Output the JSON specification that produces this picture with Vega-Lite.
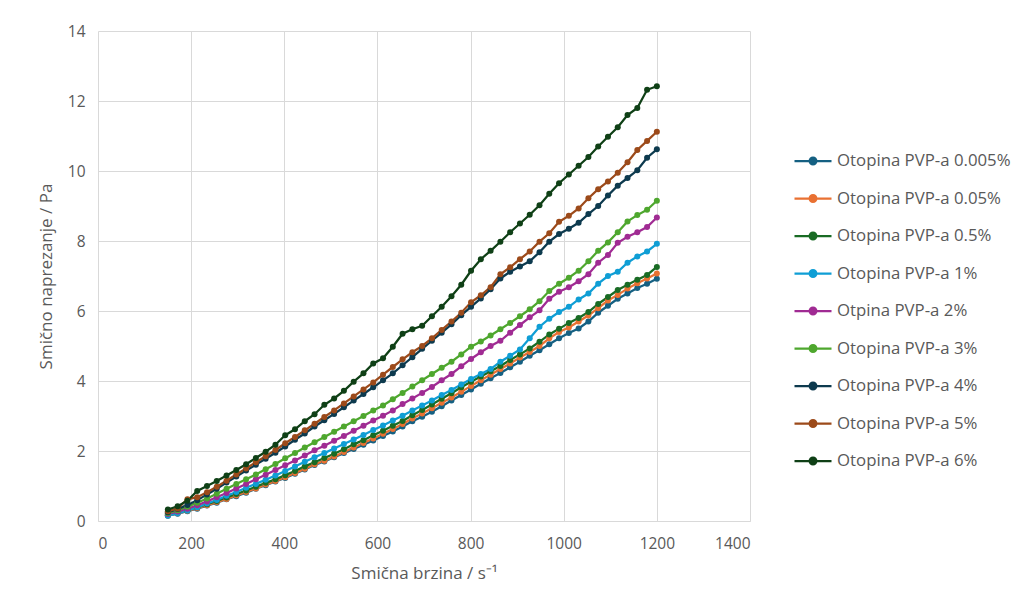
{
  "$schema": "https://vega.github.io/schema/vega-lite/v6.json",
  "width": 652,
  "height": 490,
  "autosize": {"type": "none"},
  "padding": {"left": 98, "top": 31, "right": 279, "bottom": 82},
  "background": "white",
  "config": {
    "font": "Open Sans",
    "view": {"stroke": null},
    "axis": {
      "gridColor": "#D9D9D9",
      "gridWidth": 1,
      "domainColor": "#D9D9D9",
      "ticks": false,
      "labelColor": "#595959",
      "labelFontSize": 15.5,
      "titleColor": "#595959",
      "titleFontSize": 17,
      "titleFontWeight": "normal",
      "format": "d"
    }
  },
  "data": {"values": [
{"series":"Otopina PVP-a 0.005%","x":150,"y":0.15},{"series":"Otopina PVP-a 0.005%","x":171,"y":0.21},{"series":"Otopina PVP-a 0.005%","x":192,"y":0.28},{"series":"Otopina PVP-a 0.005%","x":213,"y":0.35},{"series":"Otopina PVP-a 0.005%","x":234,"y":0.44},{"series":"Otopina PVP-a 0.005%","x":255,"y":0.52},{"series":"Otopina PVP-a 0.005%","x":276,"y":0.62},{"series":"Otopina PVP-a 0.005%","x":297,"y":0.71},{"series":"Otopina PVP-a 0.005%","x":318,"y":0.81},{"series":"Otopina PVP-a 0.005%","x":339,"y":0.92},{"series":"Otopina PVP-a 0.005%","x":360,"y":1.02},{"series":"Otopina PVP-a 0.005%","x":381,"y":1.13},{"series":"Otopina PVP-a 0.005%","x":402,"y":1.23},{"series":"Otopina PVP-a 0.005%","x":423,"y":1.35},{"series":"Otopina PVP-a 0.005%","x":444,"y":1.47},{"series":"Otopina PVP-a 0.005%","x":465,"y":1.6},{"series":"Otopina PVP-a 0.005%","x":486,"y":1.7},{"series":"Otopina PVP-a 0.005%","x":507,"y":1.82},{"series":"Otopina PVP-a 0.005%","x":528,"y":1.94},{"series":"Otopina PVP-a 0.005%","x":549,"y":2.06},{"series":"Otopina PVP-a 0.005%","x":570,"y":2.18},{"series":"Otopina PVP-a 0.005%","x":591,"y":2.3},{"series":"Otopina PVP-a 0.005%","x":612,"y":2.43},{"series":"Otopina PVP-a 0.005%","x":633,"y":2.56},{"series":"Otopina PVP-a 0.005%","x":654,"y":2.7},{"series":"Otopina PVP-a 0.005%","x":675,"y":2.85},{"series":"Otopina PVP-a 0.005%","x":696,"y":2.98},{"series":"Otopina PVP-a 0.005%","x":717,"y":3.12},{"series":"Otopina PVP-a 0.005%","x":738,"y":3.28},{"series":"Otopina PVP-a 0.005%","x":759,"y":3.44},{"series":"Otopina PVP-a 0.005%","x":780,"y":3.6},{"series":"Otopina PVP-a 0.005%","x":801,"y":3.76},{"series":"Otopina PVP-a 0.005%","x":822,"y":3.92},{"series":"Otopina PVP-a 0.005%","x":843,"y":4.08},{"series":"Otopina PVP-a 0.005%","x":864,"y":4.23},{"series":"Otopina PVP-a 0.005%","x":885,"y":4.39},{"series":"Otopina PVP-a 0.005%","x":906,"y":4.55},{"series":"Otopina PVP-a 0.005%","x":927,"y":4.72},{"series":"Otopina PVP-a 0.005%","x":948,"y":4.88},{"series":"Otopina PVP-a 0.005%","x":969,"y":5.05},{"series":"Otopina PVP-a 0.005%","x":990,"y":5.22},{"series":"Otopina PVP-a 0.005%","x":1011,"y":5.37},{"series":"Otopina PVP-a 0.005%","x":1032,"y":5.5},{"series":"Otopina PVP-a 0.005%","x":1053,"y":5.7},{"series":"Otopina PVP-a 0.005%","x":1074,"y":5.95},{"series":"Otopina PVP-a 0.005%","x":1095,"y":6.15},{"series":"Otopina PVP-a 0.005%","x":1116,"y":6.35},{"series":"Otopina PVP-a 0.005%","x":1137,"y":6.5},{"series":"Otopina PVP-a 0.005%","x":1158,"y":6.66},{"series":"Otopina PVP-a 0.005%","x":1179,"y":6.78},{"series":"Otopina PVP-a 0.005%","x":1200,"y":6.92},
{"series":"Otopina PVP-a 0.05%","x":150,"y":0.16},{"series":"Otopina PVP-a 0.05%","x":171,"y":0.22},{"series":"Otopina PVP-a 0.05%","x":192,"y":0.29},{"series":"Otopina PVP-a 0.05%","x":213,"y":0.37},{"series":"Otopina PVP-a 0.05%","x":234,"y":0.45},{"series":"Otopina PVP-a 0.05%","x":255,"y":0.54},{"series":"Otopina PVP-a 0.05%","x":276,"y":0.63},{"series":"Otopina PVP-a 0.05%","x":297,"y":0.73},{"series":"Otopina PVP-a 0.05%","x":318,"y":0.83},{"series":"Otopina PVP-a 0.05%","x":339,"y":0.93},{"series":"Otopina PVP-a 0.05%","x":360,"y":1.04},{"series":"Otopina PVP-a 0.05%","x":381,"y":1.14},{"series":"Otopina PVP-a 0.05%","x":402,"y":1.25},{"series":"Otopina PVP-a 0.05%","x":423,"y":1.37},{"series":"Otopina PVP-a 0.05%","x":444,"y":1.49},{"series":"Otopina PVP-a 0.05%","x":465,"y":1.62},{"series":"Otopina PVP-a 0.05%","x":486,"y":1.72},{"series":"Otopina PVP-a 0.05%","x":507,"y":1.84},{"series":"Otopina PVP-a 0.05%","x":528,"y":1.97},{"series":"Otopina PVP-a 0.05%","x":549,"y":2.1},{"series":"Otopina PVP-a 0.05%","x":570,"y":2.23},{"series":"Otopina PVP-a 0.05%","x":591,"y":2.36},{"series":"Otopina PVP-a 0.05%","x":612,"y":2.49},{"series":"Otopina PVP-a 0.05%","x":633,"y":2.63},{"series":"Otopina PVP-a 0.05%","x":654,"y":2.77},{"series":"Otopina PVP-a 0.05%","x":675,"y":2.93},{"series":"Otopina PVP-a 0.05%","x":696,"y":3.07},{"series":"Otopina PVP-a 0.05%","x":717,"y":3.22},{"series":"Otopina PVP-a 0.05%","x":738,"y":3.38},{"series":"Otopina PVP-a 0.05%","x":759,"y":3.53},{"series":"Otopina PVP-a 0.05%","x":780,"y":3.69},{"series":"Otopina PVP-a 0.05%","x":801,"y":3.86},{"series":"Otopina PVP-a 0.05%","x":822,"y":4.02},{"series":"Otopina PVP-a 0.05%","x":843,"y":4.18},{"series":"Otopina PVP-a 0.05%","x":864,"y":4.34},{"series":"Otopina PVP-a 0.05%","x":885,"y":4.5},{"series":"Otopina PVP-a 0.05%","x":906,"y":4.67},{"series":"Otopina PVP-a 0.05%","x":927,"y":4.83},{"series":"Otopina PVP-a 0.05%","x":948,"y":5.0},{"series":"Otopina PVP-a 0.05%","x":969,"y":5.22},{"series":"Otopina PVP-a 0.05%","x":990,"y":5.4},{"series":"Otopina PVP-a 0.05%","x":1011,"y":5.53},{"series":"Otopina PVP-a 0.05%","x":1032,"y":5.7},{"series":"Otopina PVP-a 0.05%","x":1053,"y":5.87},{"series":"Otopina PVP-a 0.05%","x":1074,"y":6.08},{"series":"Otopina PVP-a 0.05%","x":1095,"y":6.3},{"series":"Otopina PVP-a 0.05%","x":1116,"y":6.46},{"series":"Otopina PVP-a 0.05%","x":1137,"y":6.64},{"series":"Otopina PVP-a 0.05%","x":1158,"y":6.79},{"series":"Otopina PVP-a 0.05%","x":1179,"y":6.93},{"series":"Otopina PVP-a 0.05%","x":1200,"y":7.07},
{"series":"Otopina PVP-a 0.5%","x":150,"y":0.18},{"series":"Otopina PVP-a 0.5%","x":171,"y":0.24},{"series":"Otopina PVP-a 0.5%","x":192,"y":0.31},{"series":"Otopina PVP-a 0.5%","x":213,"y":0.39},{"series":"Otopina PVP-a 0.5%","x":234,"y":0.48},{"series":"Otopina PVP-a 0.5%","x":255,"y":0.57},{"series":"Otopina PVP-a 0.5%","x":276,"y":0.67},{"series":"Otopina PVP-a 0.5%","x":297,"y":0.77},{"series":"Otopina PVP-a 0.5%","x":318,"y":0.87},{"series":"Otopina PVP-a 0.5%","x":339,"y":0.98},{"series":"Otopina PVP-a 0.5%","x":360,"y":1.09},{"series":"Otopina PVP-a 0.5%","x":381,"y":1.19},{"series":"Otopina PVP-a 0.5%","x":402,"y":1.31},{"series":"Otopina PVP-a 0.5%","x":423,"y":1.43},{"series":"Otopina PVP-a 0.5%","x":444,"y":1.56},{"series":"Otopina PVP-a 0.5%","x":465,"y":1.68},{"series":"Otopina PVP-a 0.5%","x":486,"y":1.8},{"series":"Otopina PVP-a 0.5%","x":507,"y":1.92},{"series":"Otopina PVP-a 0.5%","x":528,"y":2.05},{"series":"Otopina PVP-a 0.5%","x":549,"y":2.19},{"series":"Otopina PVP-a 0.5%","x":570,"y":2.31},{"series":"Otopina PVP-a 0.5%","x":591,"y":2.45},{"series":"Otopina PVP-a 0.5%","x":612,"y":2.58},{"series":"Otopina PVP-a 0.5%","x":633,"y":2.72},{"series":"Otopina PVP-a 0.5%","x":654,"y":2.86},{"series":"Otopina PVP-a 0.5%","x":675,"y":3.02},{"series":"Otopina PVP-a 0.5%","x":696,"y":3.17},{"series":"Otopina PVP-a 0.5%","x":717,"y":3.33},{"series":"Otopina PVP-a 0.5%","x":738,"y":3.49},{"series":"Otopina PVP-a 0.5%","x":759,"y":3.65},{"series":"Otopina PVP-a 0.5%","x":780,"y":3.82},{"series":"Otopina PVP-a 0.5%","x":801,"y":3.98},{"series":"Otopina PVP-a 0.5%","x":822,"y":4.13},{"series":"Otopina PVP-a 0.5%","x":843,"y":4.28},{"series":"Otopina PVP-a 0.5%","x":864,"y":4.43},{"series":"Otopina PVP-a 0.5%","x":885,"y":4.6},{"series":"Otopina PVP-a 0.5%","x":906,"y":4.76},{"series":"Otopina PVP-a 0.5%","x":927,"y":4.93},{"series":"Otopina PVP-a 0.5%","x":948,"y":5.12},{"series":"Otopina PVP-a 0.5%","x":969,"y":5.33},{"series":"Otopina PVP-a 0.5%","x":990,"y":5.49},{"series":"Otopina PVP-a 0.5%","x":1011,"y":5.66},{"series":"Otopina PVP-a 0.5%","x":1032,"y":5.8},{"series":"Otopina PVP-a 0.5%","x":1053,"y":5.97},{"series":"Otopina PVP-a 0.5%","x":1074,"y":6.2},{"series":"Otopina PVP-a 0.5%","x":1095,"y":6.4},{"series":"Otopina PVP-a 0.5%","x":1116,"y":6.6},{"series":"Otopina PVP-a 0.5%","x":1137,"y":6.75},{"series":"Otopina PVP-a 0.5%","x":1158,"y":6.89},{"series":"Otopina PVP-a 0.5%","x":1179,"y":7.03},{"series":"Otopina PVP-a 0.5%","x":1200,"y":7.26},
{"series":"Otopina PVP-a 1%","x":150,"y":0.15},{"series":"Otopina PVP-a 1%","x":171,"y":0.22},{"series":"Otopina PVP-a 1%","x":192,"y":0.3},{"series":"Otopina PVP-a 1%","x":213,"y":0.39},{"series":"Otopina PVP-a 1%","x":234,"y":0.5},{"series":"Otopina PVP-a 1%","x":255,"y":0.6},{"series":"Otopina PVP-a 1%","x":276,"y":0.72},{"series":"Otopina PVP-a 1%","x":297,"y":0.83},{"series":"Otopina PVP-a 1%","x":318,"y":0.95},{"series":"Otopina PVP-a 1%","x":339,"y":1.06},{"series":"Otopina PVP-a 1%","x":360,"y":1.18},{"series":"Otopina PVP-a 1%","x":381,"y":1.3},{"series":"Otopina PVP-a 1%","x":402,"y":1.43},{"series":"Otopina PVP-a 1%","x":423,"y":1.56},{"series":"Otopina PVP-a 1%","x":444,"y":1.69},{"series":"Otopina PVP-a 1%","x":465,"y":1.82},{"series":"Otopina PVP-a 1%","x":486,"y":1.94},{"series":"Otopina PVP-a 1%","x":507,"y":2.07},{"series":"Otopina PVP-a 1%","x":528,"y":2.2},{"series":"Otopina PVP-a 1%","x":549,"y":2.33},{"series":"Otopina PVP-a 1%","x":570,"y":2.46},{"series":"Otopina PVP-a 1%","x":591,"y":2.6},{"series":"Otopina PVP-a 1%","x":612,"y":2.73},{"series":"Otopina PVP-a 1%","x":633,"y":2.87},{"series":"Otopina PVP-a 1%","x":654,"y":3.01},{"series":"Otopina PVP-a 1%","x":675,"y":3.16},{"series":"Otopina PVP-a 1%","x":696,"y":3.3},{"series":"Otopina PVP-a 1%","x":717,"y":3.44},{"series":"Otopina PVP-a 1%","x":738,"y":3.6},{"series":"Otopina PVP-a 1%","x":759,"y":3.74},{"series":"Otopina PVP-a 1%","x":780,"y":3.9},{"series":"Otopina PVP-a 1%","x":801,"y":4.06},{"series":"Otopina PVP-a 1%","x":822,"y":4.2},{"series":"Otopina PVP-a 1%","x":843,"y":4.34},{"series":"Otopina PVP-a 1%","x":864,"y":4.55},{"series":"Otopina PVP-a 1%","x":885,"y":4.72},{"series":"Otopina PVP-a 1%","x":906,"y":4.9},{"series":"Otopina PVP-a 1%","x":927,"y":5.22},{"series":"Otopina PVP-a 1%","x":948,"y":5.55},{"series":"Otopina PVP-a 1%","x":969,"y":5.78},{"series":"Otopina PVP-a 1%","x":990,"y":5.97},{"series":"Otopina PVP-a 1%","x":1011,"y":6.12},{"series":"Otopina PVP-a 1%","x":1032,"y":6.33},{"series":"Otopina PVP-a 1%","x":1053,"y":6.5},{"series":"Otopina PVP-a 1%","x":1074,"y":6.78},{"series":"Otopina PVP-a 1%","x":1095,"y":7.0},{"series":"Otopina PVP-a 1%","x":1116,"y":7.12},{"series":"Otopina PVP-a 1%","x":1137,"y":7.38},{"series":"Otopina PVP-a 1%","x":1158,"y":7.56},{"series":"Otopina PVP-a 1%","x":1179,"y":7.7},{"series":"Otopina PVP-a 1%","x":1200,"y":7.92},
{"series":"Otpina PVP-a 2%","x":150,"y":0.2},{"series":"Otpina PVP-a 2%","x":171,"y":0.27},{"series":"Otpina PVP-a 2%","x":192,"y":0.35},{"series":"Otpina PVP-a 2%","x":213,"y":0.45},{"series":"Otpina PVP-a 2%","x":234,"y":0.56},{"series":"Otpina PVP-a 2%","x":255,"y":0.68},{"series":"Otpina PVP-a 2%","x":276,"y":0.8},{"series":"Otpina PVP-a 2%","x":297,"y":0.93},{"series":"Otpina PVP-a 2%","x":318,"y":1.06},{"series":"Otpina PVP-a 2%","x":339,"y":1.19},{"series":"Otpina PVP-a 2%","x":360,"y":1.32},{"series":"Otpina PVP-a 2%","x":381,"y":1.46},{"series":"Otpina PVP-a 2%","x":402,"y":1.59},{"series":"Otpina PVP-a 2%","x":423,"y":1.73},{"series":"Otpina PVP-a 2%","x":444,"y":1.87},{"series":"Otpina PVP-a 2%","x":465,"y":2.02},{"series":"Otpina PVP-a 2%","x":486,"y":2.15},{"series":"Otpina PVP-a 2%","x":507,"y":2.29},{"series":"Otpina PVP-a 2%","x":528,"y":2.43},{"series":"Otpina PVP-a 2%","x":549,"y":2.58},{"series":"Otpina PVP-a 2%","x":570,"y":2.72},{"series":"Otpina PVP-a 2%","x":591,"y":2.87},{"series":"Otpina PVP-a 2%","x":612,"y":3.01},{"series":"Otpina PVP-a 2%","x":633,"y":3.16},{"series":"Otpina PVP-a 2%","x":654,"y":3.34},{"series":"Otpina PVP-a 2%","x":675,"y":3.5},{"series":"Otpina PVP-a 2%","x":696,"y":3.66},{"series":"Otpina PVP-a 2%","x":717,"y":3.83},{"series":"Otpina PVP-a 2%","x":738,"y":4.02},{"series":"Otpina PVP-a 2%","x":759,"y":4.2},{"series":"Otpina PVP-a 2%","x":780,"y":4.42},{"series":"Otpina PVP-a 2%","x":801,"y":4.63},{"series":"Otpina PVP-a 2%","x":822,"y":4.82},{"series":"Otpina PVP-a 2%","x":843,"y":5.0},{"series":"Otpina PVP-a 2%","x":864,"y":5.15},{"series":"Otpina PVP-a 2%","x":885,"y":5.38},{"series":"Otpina PVP-a 2%","x":906,"y":5.6},{"series":"Otpina PVP-a 2%","x":927,"y":5.82},{"series":"Otpina PVP-a 2%","x":948,"y":6.02},{"series":"Otpina PVP-a 2%","x":969,"y":6.35},{"series":"Otpina PVP-a 2%","x":990,"y":6.55},{"series":"Otpina PVP-a 2%","x":1011,"y":6.68},{"series":"Otpina PVP-a 2%","x":1032,"y":6.85},{"series":"Otpina PVP-a 2%","x":1053,"y":7.05},{"series":"Otpina PVP-a 2%","x":1074,"y":7.38},{"series":"Otpina PVP-a 2%","x":1095,"y":7.6},{"series":"Otpina PVP-a 2%","x":1116,"y":7.95},{"series":"Otpina PVP-a 2%","x":1137,"y":8.12},{"series":"Otpina PVP-a 2%","x":1158,"y":8.25},{"series":"Otpina PVP-a 2%","x":1179,"y":8.4},{"series":"Otpina PVP-a 2%","x":1200,"y":8.67},
{"series":"Otopina PVP-a 3%","x":150,"y":0.22},{"series":"Otopina PVP-a 3%","x":171,"y":0.31},{"series":"Otopina PVP-a 3%","x":192,"y":0.41},{"series":"Otopina PVP-a 3%","x":213,"y":0.52},{"series":"Otopina PVP-a 3%","x":234,"y":0.64},{"series":"Otopina PVP-a 3%","x":255,"y":0.78},{"series":"Otopina PVP-a 3%","x":276,"y":0.92},{"series":"Otopina PVP-a 3%","x":297,"y":1.06},{"series":"Otopina PVP-a 3%","x":318,"y":1.19},{"series":"Otopina PVP-a 3%","x":339,"y":1.33},{"series":"Otopina PVP-a 3%","x":360,"y":1.48},{"series":"Otopina PVP-a 3%","x":381,"y":1.63},{"series":"Otopina PVP-a 3%","x":402,"y":1.79},{"series":"Otopina PVP-a 3%","x":423,"y":1.94},{"series":"Otopina PVP-a 3%","x":444,"y":2.1},{"series":"Otopina PVP-a 3%","x":465,"y":2.25},{"series":"Otopina PVP-a 3%","x":486,"y":2.4},{"series":"Otopina PVP-a 3%","x":507,"y":2.55},{"series":"Otopina PVP-a 3%","x":528,"y":2.7},{"series":"Otopina PVP-a 3%","x":549,"y":2.85},{"series":"Otopina PVP-a 3%","x":570,"y":3.0},{"series":"Otopina PVP-a 3%","x":591,"y":3.16},{"series":"Otopina PVP-a 3%","x":612,"y":3.3},{"series":"Otopina PVP-a 3%","x":633,"y":3.48},{"series":"Otopina PVP-a 3%","x":654,"y":3.66},{"series":"Otopina PVP-a 3%","x":675,"y":3.84},{"series":"Otopina PVP-a 3%","x":696,"y":4.02},{"series":"Otopina PVP-a 3%","x":717,"y":4.2},{"series":"Otopina PVP-a 3%","x":738,"y":4.38},{"series":"Otopina PVP-a 3%","x":759,"y":4.55},{"series":"Otopina PVP-a 3%","x":780,"y":4.76},{"series":"Otopina PVP-a 3%","x":801,"y":4.98},{"series":"Otopina PVP-a 3%","x":822,"y":5.13},{"series":"Otopina PVP-a 3%","x":843,"y":5.3},{"series":"Otopina PVP-a 3%","x":864,"y":5.48},{"series":"Otopina PVP-a 3%","x":885,"y":5.66},{"series":"Otopina PVP-a 3%","x":906,"y":5.85},{"series":"Otopina PVP-a 3%","x":927,"y":6.05},{"series":"Otopina PVP-a 3%","x":948,"y":6.28},{"series":"Otopina PVP-a 3%","x":969,"y":6.57},{"series":"Otopina PVP-a 3%","x":990,"y":6.78},{"series":"Otopina PVP-a 3%","x":1011,"y":6.95},{"series":"Otopina PVP-a 3%","x":1032,"y":7.15},{"series":"Otopina PVP-a 3%","x":1053,"y":7.42},{"series":"Otopina PVP-a 3%","x":1074,"y":7.72},{"series":"Otopina PVP-a 3%","x":1095,"y":7.96},{"series":"Otopina PVP-a 3%","x":1116,"y":8.25},{"series":"Otopina PVP-a 3%","x":1137,"y":8.56},{"series":"Otopina PVP-a 3%","x":1158,"y":8.74},{"series":"Otopina PVP-a 3%","x":1179,"y":8.89},{"series":"Otopina PVP-a 3%","x":1200,"y":9.15},
{"series":"Otopina PVP-a 4%","x":150,"y":0.25},{"series":"Otopina PVP-a 4%","x":171,"y":0.34},{"series":"Otopina PVP-a 4%","x":192,"y":0.46},{"series":"Otopina PVP-a 4%","x":213,"y":0.59},{"series":"Otopina PVP-a 4%","x":234,"y":0.76},{"series":"Otopina PVP-a 4%","x":255,"y":0.92},{"series":"Otopina PVP-a 4%","x":276,"y":1.1},{"series":"Otopina PVP-a 4%","x":297,"y":1.27},{"series":"Otopina PVP-a 4%","x":318,"y":1.44},{"series":"Otopina PVP-a 4%","x":339,"y":1.61},{"series":"Otopina PVP-a 4%","x":360,"y":1.78},{"series":"Otopina PVP-a 4%","x":381,"y":1.95},{"series":"Otopina PVP-a 4%","x":402,"y":2.13},{"series":"Otopina PVP-a 4%","x":423,"y":2.32},{"series":"Otopina PVP-a 4%","x":444,"y":2.5},{"series":"Otopina PVP-a 4%","x":465,"y":2.7},{"series":"Otopina PVP-a 4%","x":486,"y":2.88},{"series":"Otopina PVP-a 4%","x":507,"y":3.06},{"series":"Otopina PVP-a 4%","x":528,"y":3.25},{"series":"Otopina PVP-a 4%","x":549,"y":3.44},{"series":"Otopina PVP-a 4%","x":570,"y":3.63},{"series":"Otopina PVP-a 4%","x":591,"y":3.82},{"series":"Otopina PVP-a 4%","x":612,"y":4.02},{"series":"Otopina PVP-a 4%","x":633,"y":4.22},{"series":"Otopina PVP-a 4%","x":654,"y":4.45},{"series":"Otopina PVP-a 4%","x":675,"y":4.68},{"series":"Otopina PVP-a 4%","x":696,"y":4.92},{"series":"Otopina PVP-a 4%","x":717,"y":5.15},{"series":"Otopina PVP-a 4%","x":738,"y":5.38},{"series":"Otopina PVP-a 4%","x":759,"y":5.62},{"series":"Otopina PVP-a 4%","x":780,"y":5.88},{"series":"Otopina PVP-a 4%","x":801,"y":6.12},{"series":"Otopina PVP-a 4%","x":822,"y":6.36},{"series":"Otopina PVP-a 4%","x":843,"y":6.62},{"series":"Otopina PVP-a 4%","x":864,"y":6.93},{"series":"Otopina PVP-a 4%","x":885,"y":7.12},{"series":"Otopina PVP-a 4%","x":906,"y":7.27},{"series":"Otopina PVP-a 4%","x":927,"y":7.42},{"series":"Otopina PVP-a 4%","x":948,"y":7.68},{"series":"Otopina PVP-a 4%","x":969,"y":7.98},{"series":"Otopina PVP-a 4%","x":990,"y":8.2},{"series":"Otopina PVP-a 4%","x":1011,"y":8.35},{"series":"Otopina PVP-a 4%","x":1032,"y":8.52},{"series":"Otopina PVP-a 4%","x":1053,"y":8.77},{"series":"Otopina PVP-a 4%","x":1074,"y":9.0},{"series":"Otopina PVP-a 4%","x":1095,"y":9.3},{"series":"Otopina PVP-a 4%","x":1116,"y":9.58},{"series":"Otopina PVP-a 4%","x":1137,"y":9.8},{"series":"Otopina PVP-a 4%","x":1158,"y":10.02},{"series":"Otopina PVP-a 4%","x":1179,"y":10.38},{"series":"Otopina PVP-a 4%","x":1200,"y":10.62},
{"series":"Otopina PVP-a 5%","x":150,"y":0.28},{"series":"Otopina PVP-a 5%","x":171,"y":0.36},{"series":"Otopina PVP-a 5%","x":192,"y":0.62},{"series":"Otopina PVP-a 5%","x":213,"y":0.68},{"series":"Otopina PVP-a 5%","x":234,"y":0.82},{"series":"Otopina PVP-a 5%","x":255,"y":0.98},{"series":"Otopina PVP-a 5%","x":276,"y":1.15},{"series":"Otopina PVP-a 5%","x":297,"y":1.33},{"series":"Otopina PVP-a 5%","x":318,"y":1.5},{"series":"Otopina PVP-a 5%","x":339,"y":1.68},{"series":"Otopina PVP-a 5%","x":360,"y":1.85},{"series":"Otopina PVP-a 5%","x":381,"y":2.03},{"series":"Otopina PVP-a 5%","x":402,"y":2.22},{"series":"Otopina PVP-a 5%","x":423,"y":2.4},{"series":"Otopina PVP-a 5%","x":444,"y":2.59},{"series":"Otopina PVP-a 5%","x":465,"y":2.78},{"series":"Otopina PVP-a 5%","x":486,"y":2.97},{"series":"Otopina PVP-a 5%","x":507,"y":3.16},{"series":"Otopina PVP-a 5%","x":528,"y":3.36},{"series":"Otopina PVP-a 5%","x":549,"y":3.56},{"series":"Otopina PVP-a 5%","x":570,"y":3.76},{"series":"Otopina PVP-a 5%","x":591,"y":3.96},{"series":"Otopina PVP-a 5%","x":612,"y":4.18},{"series":"Otopina PVP-a 5%","x":633,"y":4.4},{"series":"Otopina PVP-a 5%","x":654,"y":4.62},{"series":"Otopina PVP-a 5%","x":675,"y":4.82},{"series":"Otopina PVP-a 5%","x":696,"y":5.0},{"series":"Otopina PVP-a 5%","x":717,"y":5.22},{"series":"Otopina PVP-a 5%","x":738,"y":5.46},{"series":"Otopina PVP-a 5%","x":759,"y":5.7},{"series":"Otopina PVP-a 5%","x":780,"y":5.95},{"series":"Otopina PVP-a 5%","x":801,"y":6.25},{"series":"Otopina PVP-a 5%","x":822,"y":6.45},{"series":"Otopina PVP-a 5%","x":843,"y":6.68},{"series":"Otopina PVP-a 5%","x":864,"y":7.05},{"series":"Otopina PVP-a 5%","x":885,"y":7.25},{"series":"Otopina PVP-a 5%","x":906,"y":7.48},{"series":"Otopina PVP-a 5%","x":927,"y":7.7},{"series":"Otopina PVP-a 5%","x":948,"y":7.98},{"series":"Otopina PVP-a 5%","x":969,"y":8.22},{"series":"Otopina PVP-a 5%","x":990,"y":8.55},{"series":"Otopina PVP-a 5%","x":1011,"y":8.72},{"series":"Otopina PVP-a 5%","x":1032,"y":8.93},{"series":"Otopina PVP-a 5%","x":1053,"y":9.22},{"series":"Otopina PVP-a 5%","x":1074,"y":9.48},{"series":"Otopina PVP-a 5%","x":1095,"y":9.7},{"series":"Otopina PVP-a 5%","x":1116,"y":9.95},{"series":"Otopina PVP-a 5%","x":1137,"y":10.25},{"series":"Otopina PVP-a 5%","x":1158,"y":10.6},{"series":"Otopina PVP-a 5%","x":1179,"y":10.86},{"series":"Otopina PVP-a 5%","x":1200,"y":11.12},
{"series":"Otopina PVP-a 6%","x":150,"y":0.33},{"series":"Otopina PVP-a 6%","x":171,"y":0.42},{"series":"Otopina PVP-a 6%","x":192,"y":0.58},{"series":"Otopina PVP-a 6%","x":213,"y":0.86},{"series":"Otopina PVP-a 6%","x":234,"y":1.0},{"series":"Otopina PVP-a 6%","x":255,"y":1.14},{"series":"Otopina PVP-a 6%","x":276,"y":1.3},{"series":"Otopina PVP-a 6%","x":297,"y":1.46},{"series":"Otopina PVP-a 6%","x":318,"y":1.62},{"series":"Otopina PVP-a 6%","x":339,"y":1.8},{"series":"Otopina PVP-a 6%","x":360,"y":1.98},{"series":"Otopina PVP-a 6%","x":381,"y":2.18},{"series":"Otopina PVP-a 6%","x":402,"y":2.45},{"series":"Otopina PVP-a 6%","x":423,"y":2.62},{"series":"Otopina PVP-a 6%","x":444,"y":2.85},{"series":"Otopina PVP-a 6%","x":465,"y":3.05},{"series":"Otopina PVP-a 6%","x":486,"y":3.32},{"series":"Otopina PVP-a 6%","x":507,"y":3.5},{"series":"Otopina PVP-a 6%","x":528,"y":3.72},{"series":"Otopina PVP-a 6%","x":549,"y":3.98},{"series":"Otopina PVP-a 6%","x":570,"y":4.22},{"series":"Otopina PVP-a 6%","x":591,"y":4.5},{"series":"Otopina PVP-a 6%","x":612,"y":4.65},{"series":"Otopina PVP-a 6%","x":633,"y":4.98},{"series":"Otopina PVP-a 6%","x":654,"y":5.35},{"series":"Otopina PVP-a 6%","x":675,"y":5.48},{"series":"Otopina PVP-a 6%","x":696,"y":5.58},{"series":"Otopina PVP-a 6%","x":717,"y":5.85},{"series":"Otopina PVP-a 6%","x":738,"y":6.12},{"series":"Otopina PVP-a 6%","x":759,"y":6.42},{"series":"Otopina PVP-a 6%","x":780,"y":6.75},{"series":"Otopina PVP-a 6%","x":801,"y":7.15},{"series":"Otopina PVP-a 6%","x":822,"y":7.48},{"series":"Otopina PVP-a 6%","x":843,"y":7.72},{"series":"Otopina PVP-a 6%","x":864,"y":7.98},{"series":"Otopina PVP-a 6%","x":885,"y":8.25},{"series":"Otopina PVP-a 6%","x":906,"y":8.5},{"series":"Otopina PVP-a 6%","x":927,"y":8.75},{"series":"Otopina PVP-a 6%","x":948,"y":9.02},{"series":"Otopina PVP-a 6%","x":969,"y":9.35},{"series":"Otopina PVP-a 6%","x":990,"y":9.65},{"series":"Otopina PVP-a 6%","x":1011,"y":9.9},{"series":"Otopina PVP-a 6%","x":1032,"y":10.15},{"series":"Otopina PVP-a 6%","x":1053,"y":10.4},{"series":"Otopina PVP-a 6%","x":1074,"y":10.7},{"series":"Otopina PVP-a 6%","x":1095,"y":10.98},{"series":"Otopina PVP-a 6%","x":1116,"y":11.25},{"series":"Otopina PVP-a 6%","x":1137,"y":11.6},{"series":"Otopina PVP-a 6%","x":1158,"y":11.8},{"series":"Otopina PVP-a 6%","x":1179,"y":12.32},{"series":"Otopina PVP-a 6%","x":1200,"y":12.42}
  ]},
  "mark": {"type": "line", "strokeWidth": 2.25, "point": {"filled": true, "size": 36, "opacity": 1}},
  "encoding": {
    "x": {
      "field": "x", "type": "quantitative",
      "scale": {"domain": [0, 1400], "nice": false},
      "axis": {"values": [0, 200, 400, 600, 800, 1000, 1200, 1400], "title": "Smična brzina / s⁻¹", "labelPadding": 15, "titlePadding": 14}
    },
    "y": {
      "field": "y", "type": "quantitative",
      "scale": {"domain": [0, 14], "nice": false},
      "axis": {"values": [0, 2, 4, 6, 8, 10, 12, 14], "title": "Smično naprezanje  / Pa", "labelPadding": 13, "titlePadding": 12, "domain": false}
    },
    "color": {
      "field": "series", "type": "nominal",
      "scale": {
        "domain": ["Otopina PVP-a 0.005%", "Otopina PVP-a 0.05%", "Otopina PVP-a 0.5%", "Otopina PVP-a 1%", "Otpina PVP-a 2%", "Otopina PVP-a 3%", "Otopina PVP-a 4%", "Otopina PVP-a 5%", "Otopina PVP-a 6%"],
        "range": ["#156082", "#E97132", "#196B24", "#0F9ED5", "#A02B93", "#4EA72E", "#0D3A4E", "#9C4A1A", "#0F4016"]
      },
      "legend": {
        "title": null,
        "orient": "none",
        "legendX": 695,
        "legendY": 110,
        "symbolType": "M-1,0H1M-0.18,0A0.18,0.18,0,1,0,0.18,0A0.18,0.18,0,1,0,-0.18,0Z",
        "symbolSize": 1369,
        "symbolStrokeWidth": 2.25,
        "rowPadding": 8.5,
        "labelFontSize": 16.8,
        "labelColor": "#595959",
        "labelOffset": 4,
        "labelLimit": 300,
        "encode": {"symbols": {"update": {"fill": {"scale": "color", "field": "value"}, "opacity": {"value": 1}}}}
      }
    },
    "order": {"field": "x", "type": "quantitative"}
  }
}
